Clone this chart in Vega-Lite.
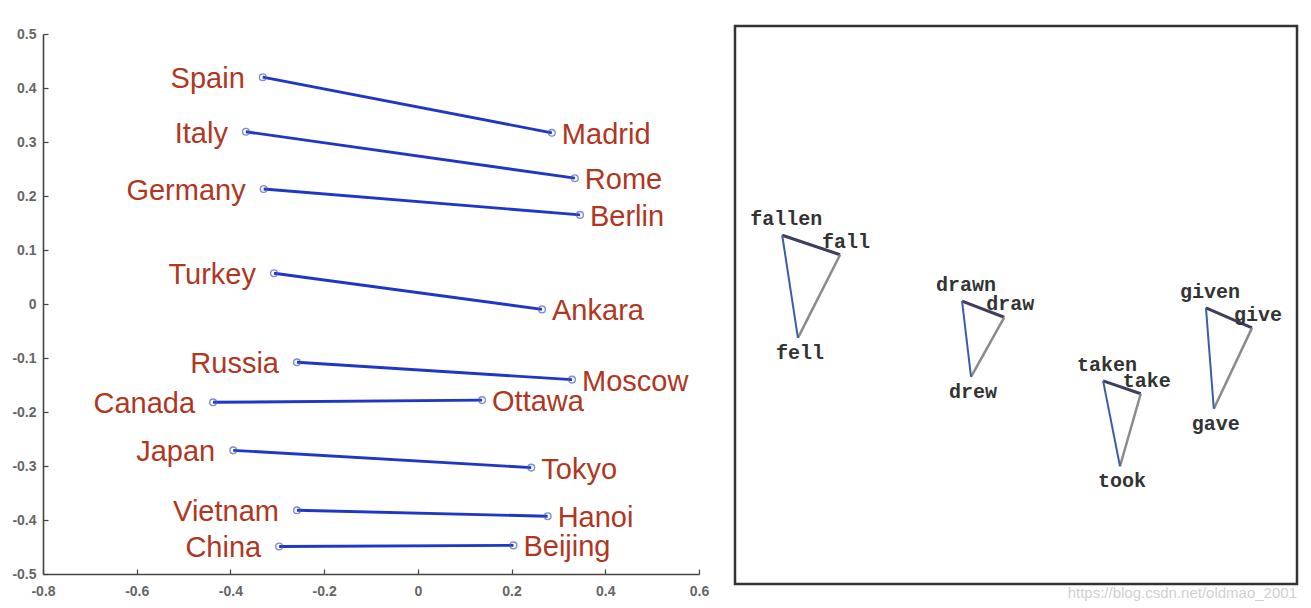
{
  "$schema": "https://vega.github.io/schema/vega-lite/v6.json",
  "padding": {"left": 11, "top": 24, "right": 5, "bottom": 0},
  "background": "white",
  "config": {"view": {"stroke": null}, "font": "Liberation Sans"},
  "spacing": 24,
  "datasets": {
    "pairs": [
      {"country": "Spain", "cx": -0.331, "cy": 0.420, "capital": "Madrid", "kx": 0.286, "ky": 0.317},
      {"country": "Italy", "cx": -0.367, "cy": 0.319, "capital": "Rome", "kx": 0.335, "ky": 0.233},
      {"country": "Germany", "cx": -0.329, "cy": 0.213, "capital": "Berlin", "kx": 0.346, "ky": 0.165},
      {"country": "Turkey", "cx": -0.307, "cy": 0.057, "capital": "Ankara", "kx": 0.265, "ky": -0.010},
      {"country": "Russia", "cx": -0.258, "cy": -0.108, "capital": "Moscow", "kx": 0.329, "ky": -0.140},
      {"country": "Canada", "cx": -0.437, "cy": -0.182, "capital": "Ottawa", "kx": 0.137, "ky": -0.178},
      {"country": "Japan", "cx": -0.394, "cy": -0.271, "capital": "Tokyo", "kx": 0.242, "ky": -0.303},
      {"country": "Vietnam", "cx": -0.258, "cy": -0.382, "capital": "Hanoi", "kx": 0.277, "ky": -0.393},
      {"country": "China", "cx": -0.296, "cy": -0.449, "capital": "Beijing", "kx": 0.204, "ky": -0.447}
    ],
    "words": [
      {"verb": "fall", "form": "participle", "word": "fallen", "x": 8.4, "y": 62.5},
      {"verb": "fall", "form": "base", "word": "fall", "x": 18.7, "y": 59.0},
      {"verb": "fall", "form": "past", "word": "fell", "x": 11.2, "y": 44.1},
      {"verb": "draw", "form": "participle", "word": "drawn", "x": 40.4, "y": 50.7},
      {"verb": "draw", "form": "base", "word": "draw", "x": 47.9, "y": 47.8},
      {"verb": "draw", "form": "past", "word": "drew", "x": 42.0, "y": 37.1},
      {"verb": "take", "form": "participle", "word": "taken", "x": 65.5, "y": 36.4},
      {"verb": "take", "form": "base", "word": "take", "x": 72.2, "y": 34.1},
      {"verb": "take", "form": "past", "word": "took", "x": 68.5, "y": 21.1},
      {"verb": "give", "form": "participle", "word": "given", "x": 83.8, "y": 49.5},
      {"verb": "give", "form": "base", "word": "give", "x": 92.0, "y": 45.9},
      {"verb": "give", "form": "past", "word": "gave", "x": 85.2, "y": 31.4}
    ],
    "edges": [
      {"verb": "fall", "edge": "participle-base", "x": 8.4, "y": 62.5, "x2": 18.7, "y2": 59.0},
      {"verb": "fall", "edge": "base-past", "x": 18.7, "y": 59.0, "x2": 11.2, "y2": 44.1},
      {"verb": "fall", "edge": "past-participle", "x": 11.2, "y": 44.1, "x2": 8.4, "y2": 62.5},
      {"verb": "draw", "edge": "participle-base", "x": 40.4, "y": 50.7, "x2": 47.9, "y2": 47.8},
      {"verb": "draw", "edge": "base-past", "x": 47.9, "y": 47.8, "x2": 42.0, "y2": 37.1},
      {"verb": "draw", "edge": "past-participle", "x": 42.0, "y": 37.1, "x2": 40.4, "y2": 50.7},
      {"verb": "take", "edge": "participle-base", "x": 65.5, "y": 36.4, "x2": 72.2, "y2": 34.1},
      {"verb": "take", "edge": "base-past", "x": 72.2, "y": 34.1, "x2": 68.5, "y2": 21.1},
      {"verb": "take", "edge": "past-participle", "x": 68.5, "y": 21.1, "x2": 65.5, "y2": 36.4},
      {"verb": "give", "edge": "participle-base", "x": 83.8, "y": 49.5, "x2": 92.0, "y2": 45.9},
      {"verb": "give", "edge": "base-past", "x": 92.0, "y": 45.9, "x2": 85.2, "y2": 31.4},
      {"verb": "give", "edge": "past-participle", "x": 85.2, "y": 31.4, "x2": 83.8, "y2": 49.5}
    ]
  },
  "hconcat": [
    {
      "width": 656,
      "height": 540,
      "data": {"name": "pairs"},
      "encoding": {
        "x": {"type": "quantitative", "scale": {"domain": [-0.8, 0.6], "nice": false, "zero": false},
          "axis": {"title": null, "grid": false, "values": [-0.8, -0.6, -0.4, -0.2, 0, 0.2, 0.4, 0.6],
            "labelExpr": "datum.value == 0 ? '0' : (datum.value < 0 ? '-' : '') + format(abs(datum.value), '.1f')",
            "domainColor": "#444", "domainWidth": 1.6, "tickColor": "#444", "tickWidth": 1.2, "tickSize": -5,
            "labelPadding": 15, "labelFontSize": 14, "labelColor": "#666", "labelFontWeight": "bold", "labelFlush": false}},
        "y": {"type": "quantitative", "scale": {"domain": [-0.5, 0.5], "nice": false, "zero": false},
          "axis": {"title": null, "grid": false, "values": [-0.5, -0.4, -0.3, -0.2, -0.1, 0, 0.1, 0.2, 0.3, 0.4, 0.5],
            "labelExpr": "datum.value == 0 ? '0' : (datum.value < 0 ? '-' : '') + format(abs(datum.value), '.1f')",
            "domainColor": "#444", "domainWidth": 1.6, "tickColor": "#444", "tickWidth": 1.2, "tickSize": -5,
            "labelPadding": 12, "labelFontSize": 14, "labelColor": "#666", "labelFontWeight": "bold", "labelFlush": false}}
      },
      "layer": [
        {"mark": {"type": "rule", "color": "#2036c6", "strokeWidth": 2.9},
          "encoding": {"x": {"field": "cx"}, "y": {"field": "cy"}, "x2": {"field": "kx"}, "y2": {"field": "ky"}}},
        {"mark": {"type": "point", "filled": false, "color": "#4a5cc4", "size": 45, "strokeWidth": 1.4},
          "encoding": {"x": {"field": "cx"}, "y": {"field": "cy"}}},
        {"mark": {"type": "point", "filled": false, "color": "#4a5cc4", "size": 45, "strokeWidth": 1.4},
          "encoding": {"x": {"field": "kx"}, "y": {"field": "ky"}}},
        {"mark": {"type": "text", "align": "right", "baseline": "middle", "dx": -18, "dy": 2, "fontSize": 29, "color": "#b0371f"},
          "encoding": {"x": {"field": "cx"}, "y": {"field": "cy"}, "text": {"field": "country"}}},
        {"mark": {"type": "text", "align": "left", "baseline": "middle", "dx": 10, "dy": 2, "fontSize": 29, "color": "#b0371f"},
          "encoding": {"x": {"field": "kx"}, "y": {"field": "ky"}, "text": {"field": "capital"}}}
      ]
    },
    {
      "width": 562,
      "height": 550,
      "encoding": {
        "x": {"type": "quantitative", "scale": {"domain": [0, 100], "nice": false, "zero": false}, "axis": null},
        "y": {"type": "quantitative", "scale": {"domain": [0, 98.566], "nice": false, "zero": false}, "axis": null}
      },
      "layer": [
        {"data": {"values": [{"frame": "box"}]},
          "mark": {"type": "rect", "fill": null, "fillOpacity": 0, "stroke": "#333", "strokeWidth": 2.5, "clip": false},
          "encoding": {"x": {"datum": 0}, "x2": {"datum": 100}, "y": {"datum": 0}, "y2": {"datum": 100}}},
        {"data": {"name": "edges"},
          "mark": {"type": "rule"},
          "encoding": {
            "x": {"field": "x"}, "y": {"field": "y"}, "x2": {"field": "x2"}, "y2": {"field": "y2"},
            "color": {"field": "edge", "type": "nominal", "scale": {"domain": ["participle-base", "base-past", "past-participle"], "range": ["#3e3e5e", "#8a8a8a", "#3a5da8"]}, "legend": null},
            "strokeWidth": {"field": "edge", "type": "ordinal", "scale": {"domain": ["participle-base", "base-past", "past-participle"], "range": [3, 2, 2.4]}, "legend": null}
          }},
        {"data": {"name": "words"},
          "transform": [{"filter": "datum.form == 'participle'"}],
          "mark": {"type": "text", "font": "Liberation Mono", "fontWeight": "bold", "fontSize": 20, "color": "#333", "dx": 4, "dy": -16, "align": "center", "baseline": "middle"},
          "encoding": {"x": {"field": "x"}, "y": {"field": "y"}, "text": {"field": "word"}}},
        {"data": {"name": "words"},
          "transform": [{"filter": "datum.form == 'base'"}],
          "mark": {"type": "text", "font": "Liberation Mono", "fontWeight": "bold", "fontSize": 20, "color": "#333", "dx": 6, "dy": -13, "align": "center", "baseline": "middle"},
          "encoding": {"x": {"field": "x"}, "y": {"field": "y"}, "text": {"field": "word"}}},
        {"data": {"name": "words"},
          "transform": [{"filter": "datum.form == 'past'"}],
          "mark": {"type": "text", "font": "Liberation Mono", "fontWeight": "bold", "fontSize": 20, "color": "#333", "dx": 2, "dy": 15, "align": "center", "baseline": "middle"},
          "encoding": {"x": {"field": "x"}, "y": {"field": "y"}, "text": {"field": "word"}}},
        {"data": {"values": [{"t": "https://blog.csdn.net/oldmao_2001"}]},
          "mark": {"type": "text", "align": "right", "baseline": "middle", "fontSize": 15, "color": "#d0d0d0"},
          "encoding": {"x": {"datum": 100}, "y": {"datum": -1.6}, "text": {"field": "t"}}}
      ]
    }
  ]
}
